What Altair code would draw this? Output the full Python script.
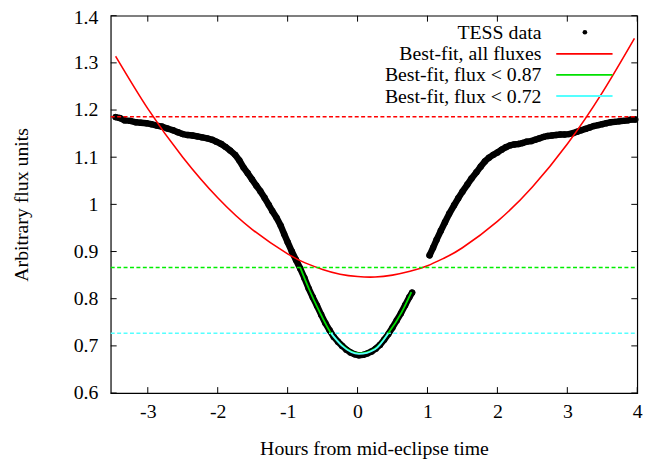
import altair as alt
import pandas as pd

# ---------------- data ----------------
# TESS data, ingress segment (hours, flux)
left_h = [-3.46, -3.40, -3.33, -3.25, -3.17, -3.10, -3.02, -2.95, -2.87, -2.80,
          -2.72, -2.64, -2.57, -2.50, -2.43, -2.36, -2.29, -2.22, -2.15, -2.08,
          -2.02, -1.95, -1.89, -1.82, -1.75, -1.69, -1.63, -1.57, -1.51, -1.45,
          -1.39, -1.33, -1.27, -1.22, -1.16, -1.10, -1.05, -1.00, -0.94, -0.88,
          -0.82, -0.76, -0.70, -0.64, -0.58, -0.52, -0.46, -0.40, -0.34, -0.28,
          -0.22, -0.16, -0.10, -0.04, 0.02, 0.08, 0.14, 0.20, 0.26, 0.32,
          0.38, 0.44, 0.50, 0.56, 0.62, 0.68, 0.74, 0.78]
left_f = [1.185, 1.183, 1.178, 1.177, 1.174, 1.173, 1.172, 1.170, 1.167, 1.165,
          1.161, 1.157, 1.153, 1.149, 1.147, 1.146, 1.144, 1.142, 1.140, 1.137,
          1.133, 1.128, 1.122, 1.114, 1.105, 1.093, 1.078, 1.066, 1.053, 1.040,
          1.028, 1.014, 0.999, 0.986, 0.972, 0.955, 0.937, 0.920, 0.900, 0.882,
          0.864, 0.844, 0.822, 0.803, 0.785, 0.766, 0.748, 0.733, 0.719, 0.709,
          0.700, 0.692, 0.686, 0.682, 0.680, 0.681, 0.684, 0.688, 0.694, 0.702,
          0.713, 0.725, 0.739, 0.754, 0.769, 0.786, 0.803, 0.813]

# TESS data, egress segment
right_h = [1.03, 1.08, 1.13, 1.19, 1.25, 1.31, 1.38, 1.44, 1.50, 1.57,
           1.63, 1.70, 1.76, 1.82, 1.88, 1.94, 2.00, 2.06, 2.12, 2.18,
           2.24, 2.30, 2.36, 2.42, 2.48, 2.54, 2.60, 2.66, 2.72, 2.78,
           2.84, 2.90, 2.96, 3.02, 3.08, 3.14, 3.20, 3.26, 3.32, 3.38,
           3.44, 3.50, 3.56, 3.62, 3.68, 3.74, 3.80, 3.86, 3.92, 3.97]
right_f = [0.892, 0.908, 0.925, 0.944, 0.962, 0.980, 0.998, 1.013, 1.027, 1.042,
           1.055, 1.068, 1.080, 1.091, 1.099, 1.105, 1.110, 1.116, 1.121, 1.125,
           1.127, 1.128, 1.130, 1.133, 1.134, 1.137, 1.140, 1.143, 1.145, 1.146,
           1.147, 1.148, 1.148, 1.149, 1.151, 1.154, 1.157, 1.160, 1.163, 1.166,
           1.168, 1.170, 1.172, 1.174, 1.175, 1.176, 1.177, 1.178, 1.180, 1.180]

# Best-fit, all fluxes (red curve)
fit_all_h = [-3.46, -3.0, -2.5, -2.0, -1.5, -1.0, -0.75, -0.5, -0.25, 0.0, 0.25, 0.5,
             0.75, 1.0, 1.25, 1.5, 2.0, 2.5, 3.0, 3.5, 3.96]
fit_all_f = [1.314, 1.203, 1.100, 1.014, 0.946, 0.895, 0.876, 0.862, 0.852, 0.847, 0.846, 0.850,
             0.858, 0.870, 0.887, 0.908, 0.964, 1.037, 1.128, 1.237, 1.352]

# Best-fit, flux < 0.87 (green curve)
fit087_h = [-0.82, -0.69, -0.55, -0.38, -0.22, 0.02, 0.25, 0.44, 0.63, 0.77]
fit087_f = [0.866, 0.819, 0.774, 0.727, 0.701, 0.684, 0.694, 0.727, 0.771, 0.814]

# Best-fit, flux < 0.72 (cyan curve)
fit072_h = [-0.38, -0.22, 0.02, 0.25, 0.44]
fit072_f = [0.727, 0.700, 0.683, 0.693, 0.727]

# horizontal reference levels (dashed)
level_values = [1.186, 0.866, 0.727]
level_colors = ["#ff0000", "#00ee00", "#55ffff"]

x_ticks = [-3, -2, -1, 0, 1, 2, 3, 4]
y_ticks = [0.6, 0.7, 0.8, 0.9, 1.0, 1.1, 1.2, 1.3, 1.4]

legend_labels = ["TESS data", "Best-fit, all fluxes", "Best-fit, flux < 0.87", "Best-fit, flux < 0.72"]
legend_colors = ["black", "#ff0000", "#00e000", "#55ffff"]

# ---------------- chart ----------------
W, H = 533, 382
FONT = "Liberation Serif"
FS = 20

tess = pd.DataFrame({
    "h": left_h + right_h,
    "f": left_f + right_f,
    "seg": [0] * len(left_h) + [1] * len(right_h),
})
fit_all = pd.DataFrame({"h": fit_all_h, "f": fit_all_f})
fit087 = pd.DataFrame({"h": fit087_h, "f": fit087_f})
fit072 = pd.DataFrame({"h": fit072_h, "f": fit072_f})
levels = pd.DataFrame({"f": level_values, "c": level_colors})
xt = pd.DataFrame({"h": x_ticks})
yt = pd.DataFrame({"f": y_ticks})

xs = alt.Scale(domain=[-3.53, 4], nice=False, zero=False)
ys = alt.Scale(domain=[0.6, 1.4], nice=False, zero=False)

xaxis = alt.Axis(values=x_ticks, domain=False, ticks=False, tickSize=0, grid=False,
                 labelFont=FONT, labelFontSize=FS, labelColor="black", labelPadding=9,
                 labelFlush=False, labelOverlap=False,
                 labelExpr="datum.value + ''",
                 title="Hours from mid-eclipse time", titleFont=FONT, titleFontSize=FS,
                 titleFontWeight="normal", titleColor="black",
                 titleX=W / 2, titleY=56, titleAlign="center", titleBaseline="middle")
yaxis = alt.Axis(values=y_ticks, domain=False, ticks=False, tickSize=0, grid=False,
                 labelFont=FONT, labelFontSize=FS, labelColor="black", labelPadding=13,
                 labelFlush=False, labelOverlap=False,
                 labelOffset=alt.condition("datum.value >= 1.39", alt.value(1.5), alt.value(0)),
                 labelExpr="format(datum.value, '~g')",
                 title="Arbitrary flux units", titleFont=FONT, titleFontSize=FS,
                 titleFontWeight="normal", titleColor="black",
                 titleX=-90, titleY=H / 2, titleAngle=-90, titleAlign="center",
                 titleBaseline="middle")

X = alt.X("h:Q", scale=xs, axis=xaxis)
Y = alt.Y("f:Q", scale=ys, axis=yaxis)

data_band = alt.Chart(tess).mark_line(color="black", strokeWidth=6.5, strokeCap="round",
                                      strokeJoin="round").encode(x=X, y=Y, detail="seg:N")
data_pts = alt.Chart(tess).mark_circle(color="black", opacity=1, size=42).encode(x=X, y=Y)

red_fit = alt.Chart(fit_all).mark_line(color="#ff0000", strokeWidth=1.6,
                                        interpolate="natural").encode(x=X, y=Y)
level_lines = alt.Chart(levels).mark_rule(strokeWidth=1.5, strokeDash=[4, 2.5]).encode(
    y=Y, x=alt.value(0), x2=alt.value(W), color=alt.Color("c:N", scale=None))
green_fit = alt.Chart(fit087).mark_line(color="#00e000", strokeWidth=1.8,
                                         interpolate="monotone").encode(x=X, y=Y)
cyan_fit = alt.Chart(fit072).mark_line(color="#55ffff", strokeWidth=1.8,
                                        interpolate="monotone").encode(x=X, y=Y)

# inward tick marks on all four sides
tick_len = 6
xb = alt.Chart(xt).mark_rule(color="black", strokeWidth=1).encode(x=X, y=alt.value(H), y2=alt.value(H - tick_len))
xtop = alt.Chart(xt).mark_rule(color="black", strokeWidth=1).encode(x=X, y=alt.value(0), y2=alt.value(tick_len))
yl = alt.Chart(yt).mark_rule(color="black", strokeWidth=1).encode(y=Y, x=alt.value(0), x2=alt.value(tick_len))
yr = alt.Chart(yt).mark_rule(color="black", strokeWidth=1).encode(y=Y, x=alt.value(W), x2=alt.value(W - tick_len))

# legend (top right, inside the plot, gnuplot style)
one = pd.DataFrame({"k": [0]})
leg_text_x = 436
leg_rows_y = [18, 39.3, 60.6, 82]
legend_layers = []
for lab, yy in zip(legend_labels, leg_rows_y):
    legend_layers.append(
        alt.Chart(one).mark_text(font=FONT, fontSize=FS, align="right", baseline="middle",
                                 color="black").encode(
            x=alt.value(leg_text_x), y=alt.value(yy), text=alt.value(lab)))
legend_layers.append(
    alt.Chart(one).mark_circle(color="black", opacity=1, size=22).encode(
        x=alt.value(480), y=alt.value(leg_rows_y[0] - 1.2)))
for col, yy in zip(legend_colors[1:], leg_rows_y[1:]):
    legend_layers.append(
        alt.Chart(one).mark_rule(color=col, strokeWidth=1.8).encode(
            x=alt.value(451), x2=alt.value(508), y=alt.value(yy - 0.7)))

chart = alt.layer(
    data_band, data_pts, red_fit, level_lines, green_fit, cyan_fit,
    xb, xtop, yl, yr, *legend_layers
).properties(
    width=W, height=H,
    padding={"left": 104, "top": 5, "right": 20, "bottom": 66},
    autosize=alt.AutoSizeParams(type="none"),
    background="white",
).configure_view(stroke="black", strokeWidth=1.2)

chart.save("out.html", embed_options={"renderer": "svg", "actions": False})
